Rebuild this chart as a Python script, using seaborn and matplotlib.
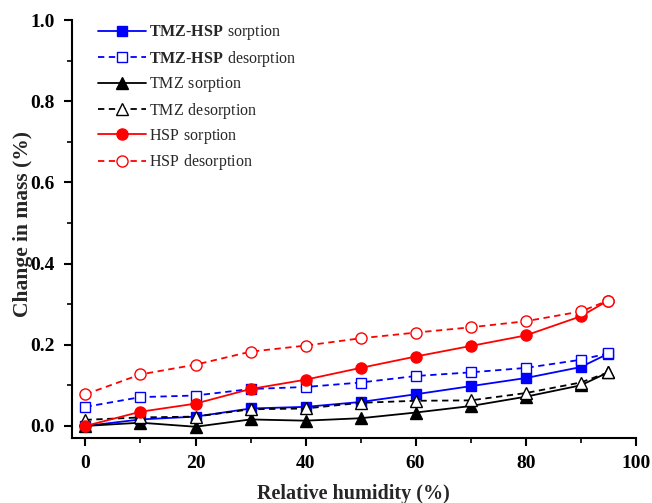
import numpy as np
import pandas as pd
import matplotlib
matplotlib.use("Agg")
import matplotlib.pyplot as plt
import seaborn as sns

# Relative humidity steps (%)
rh = [0, 10, 20, 30, 40, 50, 60, 70, 80, 90, 95]

# Change in mass (%) for each sample and branch
tmz_hsp_sorption = [0.000, 0.016, 0.023, 0.043, 0.047, 0.059, 0.078, 0.098, 0.118, 0.145, 0.178]
tmz_hsp_desorption = [0.047, 0.071, 0.075, 0.091, 0.096, 0.107, 0.123, 0.132, 0.143, 0.163, 0.179]
tmz_sorption = [0.000, 0.008, -0.002, 0.016, 0.013, 0.019, 0.033, 0.049, 0.072, 0.100, 0.132]
tmz_desorption = [0.015, 0.021, 0.023, 0.041, 0.043, 0.057, 0.062, 0.063, 0.081, 0.107, 0.132]
hsp_sorption = [0.000, 0.035, 0.055, 0.091, 0.114, 0.143, 0.171, 0.197, 0.223, 0.270, 0.309]
hsp_desorption = [0.078, 0.127, 0.151, 0.183, 0.198, 0.216, 0.230, 0.243, 0.258, 0.282, 0.309]

# Legend labels (mathtext throughout so every row has the same height)
series_labels = [
    "$\\mathbf{TMZ\u2010HSP}\\mathrm{\\ sorption}$",
    "$\\mathbf{TMZ\u2010HSP}\\mathrm{\\ desorption}$",
    "$\\mathrm{TMZ\\ sorption}$",
    "$\\mathrm{TMZ\\ desorption}$",
    "$\\mathrm{HSP\\ sorption}$",
    "$\\mathrm{HSP\\ desorption}$",
]
series_values = [tmz_hsp_sorption, tmz_hsp_desorption, tmz_sorption,
                 tmz_desorption, hsp_sorption, hsp_desorption]

dash = (0, (3.5, 2.5))
styles = [
    dict(color="#0000ff", ls="-", marker="s", mfc="#0000ff", ms=7),
    dict(color="#0000ff", ls=dash, marker="s", mfc="white", ms=7),
    dict(color="black", ls="-", marker="^", mfc="black", ms=8),
    dict(color="black", ls=dash, marker="^", mfc="white", ms=8),
    dict(color="#ff0000", ls="-", marker="o", mfc="#ff0000", ms=8),
    dict(color="#ff0000", ls=dash, marker="o", mfc="white", ms=8),
]

sns.set_style("ticks")
plt.rcParams["font.family"] = ["Liberation Serif", "DejaVu Serif"]
plt.rcParams["mathtext.fontset"] = "custom"
plt.rcParams["mathtext.rm"] = "Liberation Serif"
plt.rcParams["mathtext.bf"] = "Liberation Serif:bold"

fig = plt.figure(figsize=(6.52, 5.03), dpi=100)
ax = fig.add_axes([0.110, 0.129, 0.865, 0.831])

for label, vals, st in zip(series_labels, series_values, styles):
    df = pd.DataFrame({"rh": rh, "mass": vals})
    sns.lineplot(data=df, x="rh", y="mass", ax=ax, label=label,
                 color=st["color"], linestyle=st["ls"], linewidth=1.3,
                 marker=st["marker"], markersize=st["ms"],
                 markerfacecolor=st["mfc"], markeredgecolor=st["color"],
                 markeredgewidth=1.0, zorder=3)

ax.set_xlim(-2.5, 100)
ax.set_ylim(-0.03, 1.0)
ax.set_xticks([0, 20, 40, 60, 80, 100])
ax.set_xticks([10, 30, 50, 70, 90], minor=True)
ax.set_yticks([0.0, 0.2, 0.4, 0.6, 0.8, 1.0])
ax.set_yticks([0.1, 0.3, 0.5, 0.7, 0.9], minor=True)
ax.set_yticklabels([f"{v:.1f}" for v in [0.0, 0.2, 0.4, 0.6, 0.8, 1.0]])

for s in ("top", "right"):
    ax.spines[s].set_visible(False)
for s in ("left", "bottom"):
    ax.spines[s].set_linewidth(1.5)
    ax.spines[s].set_color("black")

ax.tick_params(axis="both", which="major", direction="out", length=6, width=1.5,
               labelsize=14, colors="black", pad=6)
ax.tick_params(axis="both", which="minor", direction="out", length=3.5, width=1.2,
               colors="black")
for t in ax.get_xticklabels() + ax.get_yticklabels():
    t.set_fontweight("bold")

ax.set_xlabel("Relative humidity (%)", fontsize=14.5, fontweight="bold", labelpad=9)
ax.set_ylabel("Change in mass (%)", fontsize=15.5, fontweight="bold")
ax.yaxis.set_label_coords(-0.069, 0.513)

leg = ax.legend(loc="upper left", bbox_to_anchor=(0.03, 1.015), frameon=False,
                fontsize=11.5, handlelength=3.0, handletextpad=0.15,
                labelspacing=0.4, borderaxespad=0.2)

fig.savefig("out.png", dpi=100)
